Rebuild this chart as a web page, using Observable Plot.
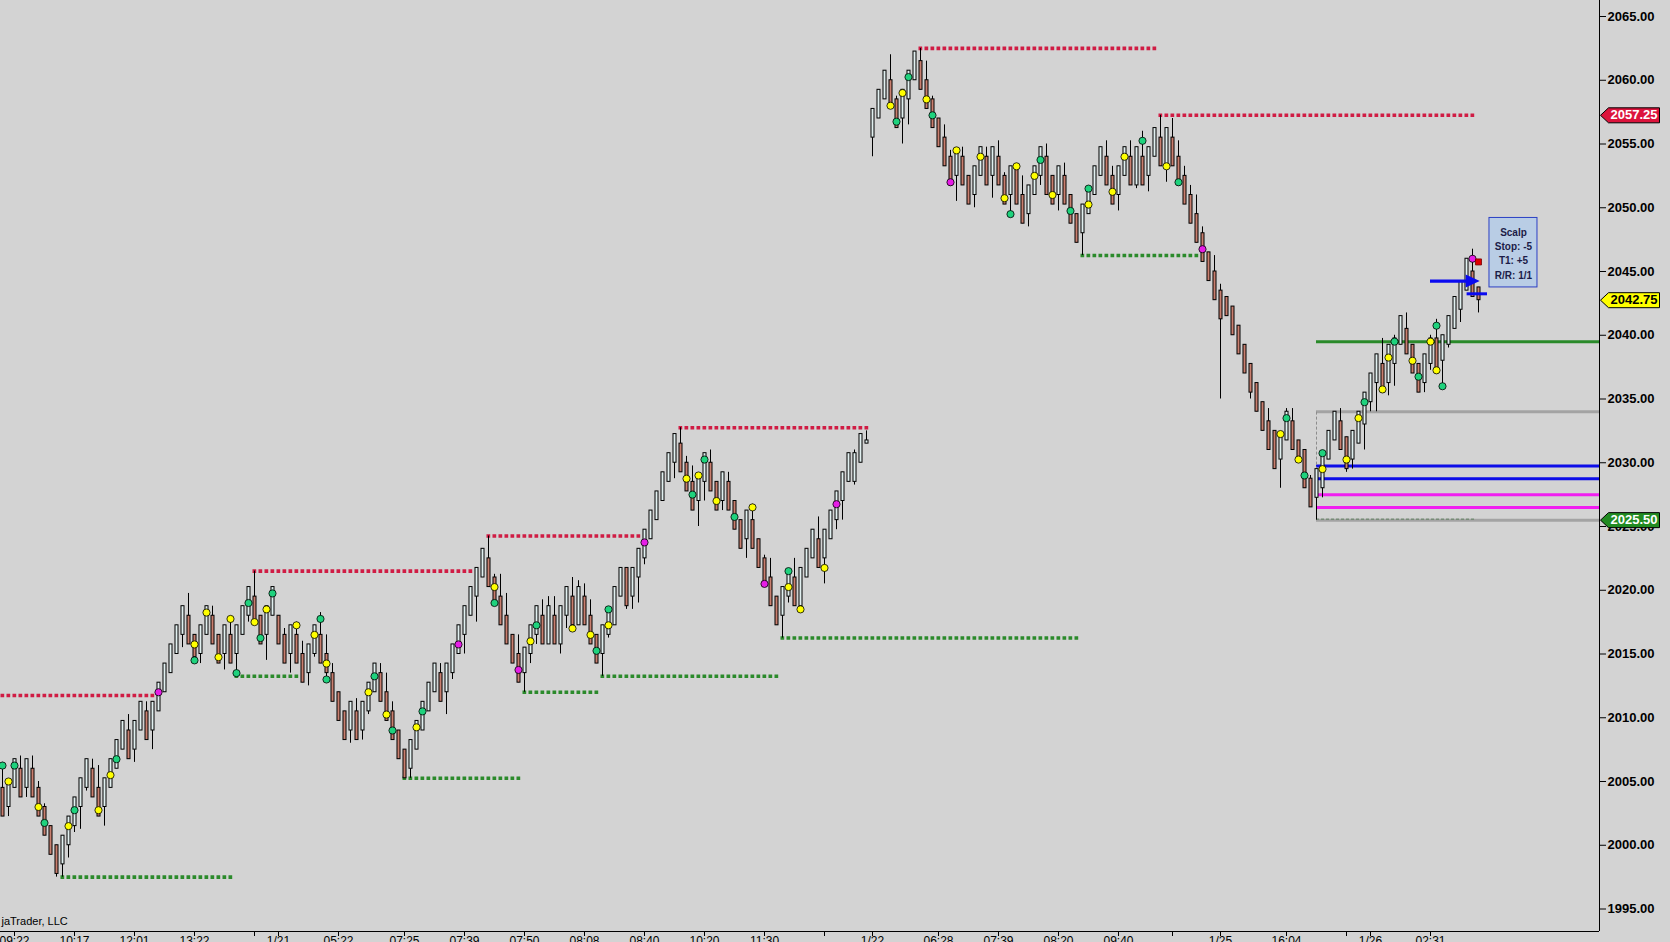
<!DOCTYPE html>
<html>
<head>
<meta charset="utf-8">
<script src="https://cdn.jsdelivr.net/npm/d3@7"></script>
<script src="https://cdn.jsdelivr.net/npm/@observablehq/plot@0.6"></script>
<style>
html, body { margin: 0; padding: 0; background: #d3d3d3; overflow: hidden; }
#chart svg { display: block; }
</style>
</head>
<body>
<div id="chart"></div>
<script>
// ---- OHLC range bars (bar index = position in arrays) ----
const opens = [
2004.5,2003,2004.5,2006,2004.5,2006,2004.5,2003,2001.5,2000,
1998.5,2000,2001.5,2003,2004.5,2006,2004.5,2003,2004.5,2006,
2007.5,2009,2007.5,2009,2010.5,2009,2010.5,2012,2013.5,2015,
2016.5,2018,2016.5,2015,2016.5,2018,2016.5,2015,2016.5,2015,
2016.5,2018,2019.5,2018,2016.5,2018,2018,2016.5,2015,2016.5,
2015,2013.5,2015,2016.5,2015,2013.5,2012,2010.5,2009,2010.5,
2009,2010.5,2012,2013.5,2012,2010.5,2009,2007.5,2006,2007.5,
2009,2010.5,2012,2013.5,2012,2013.5,2015,2016.5,2018,2019.5,
2021,2022.5,2021,2019.5,2018,2016.5,2015,2013.5,2015,2016.5,
2018,2015.75,2018,2015.75,2018,2019.5,2017.25,2019.5,2018,2016.5,
2015,2016.5,2017.25,2019.5,2021.75,2019.5,2021,2022.5,2024,2025.5,
2027,2028.5,2030,2031.5,2030,2028.5,2027,2028.5,2030,2028.5,
2027,2028.5,2027,2025.5,2024,2025.5,2024,2022.5,2021,2019.5,
2018,2019.5,2021,2018.75,2021,2022.5,2024,2022.5,2024,2025.5,
2027,2028.5,2028.5,2030,2031.5,2055.5,2057,2058.5,2060,2058.5,
2057,2058.5,2060,2061.5,2060,2058.5,2057,2055.5,2054,2052.5,
2054,2052.5,2051,2052.5,2054,2052.5,2054,2052.5,2051,2053.25,
2051,2049.5,2051,2052.5,2054,2052.5,2051,2052.5,2051,2049.5,
2048,2049.5,2051,2052.5,2054,2052.5,2051,2052.5,2054,2051.75,
2054,2052.5,2054,2055.5,2053.25,2055.5,2054,2052.5,2051,2049.5,
2048,2046.5,2045,2043.5,2043,2042.25,2040.75,2039.25,2037.75,2036.25,
2034.75,2033.25,2032.5,2030.25,2031.75,2033.25,2031.75,2031,2028.75,2027.25,
2028,2030.25,2031.75,2033.25,2032,2030.25,2031.5,2033,2034.75,2036.25,
2037.75,2036.25,2037.75,2039.25,2040.5,2039.25,2037.75,2036.25,2037.75,2039.75,
2038,2039.25,2040.5,2042,2043.5,2045,2043.75
];
const highs = [
2006.5,2005,2006.75,2007,2006.75,2007,2005,2003.25,2001.5,2000,
2000.75,2002.25,2003.75,2005.25,2006.75,2006.75,2006.25,2005.25,2006.75,2008.25,
2009.75,2010.25,2009.75,2011.25,2011.25,2011.25,2012.75,2014.25,2015.75,2017.25,
2018.75,2019.75,2016.5,2017.25,2018.75,2018.75,2016.5,2017.25,2017.75,2017.25,
2018.75,2020.25,2021.5,2018,2018.75,2020.25,2018,2017,2017.25,2017.5,
2016,2015.75,2017.25,2018.25,2016.5,2014.25,2012,2010.5,2011.25,2011.5,
2011.25,2012.75,2014.25,2014.25,2013.5,2011.25,2009,2007.5,2008.25,2009.75,
2011.25,2012.75,2014.25,2014.25,2014.25,2015.75,2017.25,2018.75,2020.25,2021.75,
2023.25,2024.25,2021.25,2021.25,2019.75,2016.5,2016.5,2015.5,2017.25,2018.75,
2019.25,2019.5,2019.5,2018.75,2020.25,2021,2020.75,2020.5,2019.25,2016.5,
2017.25,2018.5,2020.25,2021.75,2021.75,2021.75,2023.25,2024.75,2026.25,2027.75,
2029.25,2030.75,2032.25,2032.75,2030.5,2029.75,2029,2030.75,2031,2028.5,
2029.25,2029.25,2027,2025.5,2026.25,2026.75,2024,2022.75,2022.5,2019.5,
2020.25,2021.5,2022.5,2021.75,2023.25,2024.75,2025.75,2024.75,2026.25,2027.75,
2029.25,2030.75,2031,2032.25,2032.5,2057.75,2059.25,2060.75,2062,2058.75,
2059.25,2060.75,2062.25,2062.5,2061.5,2058.75,2057,2056.5,2054.5,2054.5,
2054.75,2052.5,2053.25,2054.75,2054.75,2054.75,2055.25,2052.75,2053.25,2053.25,
2052.5,2051.75,2053.25,2054.75,2055,2052.5,2053.25,2053.5,2051,2049.5,
2050.25,2051.5,2053.25,2054.75,2055.25,2053.25,2053.25,2054.75,2055.25,2054.75,
2056,2054.75,2056.25,2057.25,2056.25,2057,2055.25,2053.25,2051.75,2051,
2048.5,2046.5,2046.25,2044,2043,2042.25,2040.75,2039.25,2037.75,2036.25,
2034.75,2034.25,2032.5,2032.25,2034.25,2034.25,2031.75,2031,2029,2029.5,
2030.75,2032.5,2034,2034.25,2032,2032.5,2034,2035.5,2037,2038.5,
2039.75,2039.25,2040,2041.5,2041.75,2039.25,2037.75,2038.5,2040,2041.25,
2040,2041.5,2043,2044.25,2046,2046.75,2043.75
];
const lows = [
2002.25,2002.25,2004.5,2003.75,2003.75,2003.75,2002.25,2000.75,1999.25,1997.5,
1997.5,1999,2001,2001.25,2004.25,2003.75,2002.25,2001.5,2004.5,2006,
2007.5,2006.75,2006.5,2009,2008.25,2007.5,2010.5,2012,2013.5,2015,
2015.5,2015.75,2014.5,2014.25,2016.5,2015.75,2014.25,2013.75,2014.25,2013.25,
2016.5,2017.5,2017.25,2015.75,2014.5,2018,2015.75,2014.25,2013.5,2014.25,
2012.75,2012.5,2014.75,2014.25,2013,2011.25,2009.75,2008.25,2008,2008.25,
2008.25,2010.25,2012,2011.25,2009.75,2008.25,2006.75,2005.25,2005.25,2007.5,
2009,2010.5,2012,2011.25,2010.25,2013,2015,2015,2018,2017.5,
2021,2020.25,2018.75,2017.25,2015.75,2014.25,2012.75,2012,2014.25,2015.75,
2015.75,2015.75,2015.75,2015,2017,2017,2017.25,2017.25,2015.75,2014.25,
2013.25,2016.25,2017.25,2019.5,2018.5,2018.5,2019,2022,2024,2025.5,
2027,2028.5,2028.75,2029.25,2027.75,2026.25,2025,2027,2027.75,2026.25,
2026.25,2026.25,2024.75,2023.25,2022.5,2023.25,2021.75,2020.25,2018.75,2017.25,
2016.25,2019,2018.75,2018.5,2021,2022.5,2021.75,2020.5,2024,2024.75,
2025.5,2028.5,2028.25,2030,2031.5,2054,2057,2058.5,2057.75,2056.25,
2055,2056.5,2060,2059.25,2057.75,2056.25,2054.75,2053.25,2051.75,2050.5,
2051.75,2050.25,2050,2052.5,2051.75,2050.75,2051.75,2050.25,2049.5,2050.25,
2048.75,2048.5,2051,2051.75,2051,2050.25,2049.75,2050.25,2048.75,2047.25,
2046.25,2049.5,2051,2052.5,2051.75,2050.25,2049.75,2052.5,2051.75,2051.5,
2051.75,2051.25,2054,2053.25,2052,2053.25,2051.75,2050.25,2048.75,2047.25,
2045.75,2044.25,2042.75,2035,2041.5,2040,2038.5,2037,2035,2034,
2032.5,2031,2029.5,2028,2031.75,2031,2030.25,2028,2026.5,2025.5,
2027.25,2030.25,2031.75,2031,2029.25,2029.5,2031.5,2031,2034,2034,
2035.5,2035.25,2036,2039.25,2038.5,2037,2035.5,2035.5,2037.25,2037,
2036,2039,2040.5,2041,2043.5,2043,2041.75
];
const closes = [
2002.25,2005,2006.75,2003.75,2006.75,2003.75,2002.25,2000.75,1999.25,1997.75,
2000.75,2002.25,2003.75,2005.25,2006.75,2003.75,2002.25,2005.25,2006.75,2008.25,
2009.75,2006.75,2009.75,2011.25,2008.25,2011.25,2012.75,2014.25,2015.75,2017.25,
2018.75,2015.75,2014.75,2017.25,2018.75,2015.75,2014.25,2017.25,2014.25,2017.25,
2018.75,2020.25,2017.5,2015.75,2018.75,2020.25,2015.75,2014.25,2017.25,2014.25,
2012.75,2015.75,2017.25,2014.25,2013.5,2011.25,2009.75,2008.25,2011.25,2008.25,
2011.25,2012.75,2014.25,2011.25,2009.75,2008.25,2006.75,2005.25,2008.25,2009.75,
2011.25,2012.75,2014.25,2011.25,2014.25,2015.75,2017.25,2018.75,2020.25,2021.75,
2023.25,2020.25,2019,2017.25,2015.75,2014.25,2012.75,2015.5,2017.25,2018.75,
2015.75,2018.75,2015.75,2018.75,2020.25,2017.25,2020.25,2017.25,2015.75,2014.25,
2017.25,2018.5,2020.25,2021.75,2018.75,2021.75,2023.25,2024.75,2026.25,2027.75,
2029.25,2030.75,2032.25,2029.25,2027.75,2026.25,2029,2030.75,2027.75,2026.25,
2029.25,2026.25,2024.75,2023.25,2026.25,2023.25,2021.75,2020.25,2018.75,2017.25,
2020.25,2021.5,2018.75,2021.75,2023.25,2024.75,2021.75,2024.75,2026.25,2027.75,
2029.25,2030.75,2030.75,2032.25,2031.75,2057.75,2059.25,2060.75,2057.75,2056.25,
2059.25,2060.75,2062.25,2059.25,2057.75,2056.25,2054.75,2053.25,2051.75,2054.5,
2051.75,2050.25,2053.25,2054.75,2051.75,2054.75,2051.75,2050.25,2053.25,2050.25,
2048.75,2051.75,2053.25,2054.75,2051,2050.25,2053.25,2050.25,2048.75,2047.25,
2050.25,2051.5,2053.25,2054.75,2051.75,2050.25,2053.25,2054.75,2051.75,2054.75,
2051.75,2054.75,2056.25,2053.25,2056.25,2053.25,2051.75,2050.25,2048.75,2047.25,
2045.75,2044.25,2042.75,2041.25,2041.5,2040,2038.5,2037,2035.5,2034,
2032.5,2031,2029.5,2032.25,2034,2031,2030.25,2028,2026.5,2029.5,
2030.75,2032.5,2034,2031,2029.5,2032.5,2034,2035.5,2037,2038.5,
2035.5,2039.25,2039.75,2041.5,2038.5,2037,2035.5,2038.5,2039.75,2037,
2040,2041.5,2043,2044.25,2046,2043,2042.75
];

// ---- signal dots ----
const greenBars = [0,2,7,12,19,32,39,41,43,45,53,54,62,65,70,82,89,99,101,115,117,122,131,149,151,155,168,173,178,181,190,196,214,217,220,227,232,236,239,240];
const greenPrices = [2006.25,2006.25,2001.75,2002.75,2006.75,2014.5,2013.5,2019,2016.25,2019.75,2017.75,2013,2013.25,2009,2010.5,2019,2017.25,2015.25,2018.5,2027.5,2030.25,2025.75,2021.5,2056.75,2060.25,2057.25,2049.5,2053.75,2049.75,2051.5,2055.25,2052,2033.5,2029,2030.75,2034.75,2039.5,2036.75,2040.75,2036];
const yellowBars = [1,6,11,16,18,32,34,36,38,42,44,49,52,54,61,64,69,82,88,95,98,101,114,116,119,125,131,133,137,148,150,154,159,163,167,169,172,175,181,185,187,194,213,216,220,224,226,230,231,235,238,239];
const yellowPrices = [2005,2003,2001.5,2002.75,2005.5,2015.75,2018.25,2014.75,2017.75,2017.5,2018.5,2017.25,2016.5,2014.25,2012,2010.25,2009.25,2020.25,2016,2017,2016.5,2017.25,2028.75,2029,2027,2026.5,2020.25,2018.5,2021.75,2058,2059,2058.5,2054.5,2054,2050.75,2053.25,2052.5,2051,2050.25,2051.25,2054,2053.25,2032.25,2030.25,2029.5,2030.25,2033.5,2035.75,2038.25,2038,2039.5,2037.25];
const magentaBars = [26,76,86,107,127,139,158,200,245];
const magentaPrices = [2012,2015.75,2013.75,2023.75,2020.5,2026.75,2052,2046.75,2046];

// ---- swing levels (dotted) ----
const resistFrom = [-2,42,81,113,153,193];
const resistTo = [25,78,106,144,192,245];
const resistPrices = [2011.75,2021.5,2024.25,2032.75,2062.5,2057.25];
const supportFrom = [10,39,67,87,100,130,180];
const supportTo = [38,49,86,99,129,179,199];
const supportPrices = [1997.5,2013.25,2005.25,2012,2013.25,2016.25,2046.25];

// ---- right-side zone lines ----
const zoneStartBar = 219;
const zonePrices = [2039.5,2034,2029.75,2028.75,2027.5,2026.5,2025.5];
const zoneColors = ["#2a8a2a","#a3a3a3","#0d0de8","#0d0de8","#f01ef0","#f01ef0","#a3a3a3"];

// ---- trade marker ----
const entryPrice = 2044.25, entryFromBar = 238, entryToBar = 246.2;
const targetPrice = 2043.25, targetFromBar = 244.1, targetToBar = 247.5;
const stopMarkBar = 246, stopMarkPrice = 2045.75;
const scalpLines = ["Scalp","Stop: -5","T1: +5","R/R: 1/1"];

// ---- price tags ----
const tagPrices = [2057.25,2042.75,2025.5];
const tagFills = ["#dc143c","#ffff00","#228b22"];
const tagText = ["white","black","white"];

// ---- axes ----
const yTicks = d3.range(1995, 2066, 5);
const xTickBars = [2,12,22,32,42,46,56,67,77,87,97,107,117,127,137,145,156,166,176,186,195,203,214,224,228,238];
const xTickLabels = ["09:22","10:17","12:01","13:22","","1/21","05:22","07:25","07:39","07:50","08:08","08:40","10:20","11:30","","1/22","06:28","07:39","08:20","09:40","","1/25","16:04","","1/26","02:31"];

// ---- build tables ----
const bars = opens.map((o, i) => ({i, o, h: highs[i], l: lows[i], c: closes[i]}));
const dots = [
  ...greenBars.map((b, k) => ({b, p: greenPrices[k], f: "#1fd27d"})),
  ...yellowBars.map((b, k) => ({b, p: yellowPrices[k], f: "#ffff00"})),
  ...magentaBars.map((b, k) => ({b, p: magentaPrices[k], f: "#e61ee6"}))
];
const resist = resistPrices.map((p, k) => ({p, a: resistFrom[k] - 0.25, z: resistTo[k] + 0.5}));
const support = supportPrices.map((p, k) => ({p, a: supportFrom[k] - 0.25, z: supportTo[k] + 0.5}));
const zones = zonePrices.map((p, k) => ({p, col: zoneColors[k]}));
const tags = tagPrices.map((p, k) => ({p, f: tagFills[k], t: tagText[k]}));
const xLabel = new Map(xTickBars.map((b, k) => [b, xTickLabels[k]]));

const X0 = -1/3, X1 = X0 + 266.5;
const YMAX = 2065 + 16/12.75, YMIN = YMAX - 931/12.75;

const tagShape = {draw(ctx) {
  ctx.moveTo(1, 0); ctx.lineTo(9, -7.5); ctx.lineTo(60, -7.5);
  ctx.lineTo(60, 7.5); ctx.lineTo(9, 7.5); ctx.closePath();
}};
const arrowHead = {draw(ctx) {
  ctx.moveTo(0, 0); ctx.lineTo(-14, -6.5); ctx.lineTo(-14, 6.5); ctx.closePath();
}};

const upFill = "#e2f0f0", downFill = "#c97f6f";
const boxX1 = 247.83, boxX2 = 255.83, boxY1 = 2043.75, boxY2 = 2049.2;

const chart = Plot.plot({
  width: 1670, height: 942,
  marginLeft: 0, marginRight: 71, marginTop: 0, marginBottom: 11,
  style: {background: "#d3d3d3", fontFamily: "'Liberation Sans', Arial, sans-serif", color: "black", overflow: "visible"},
  x: {domain: [X0, X1]},
  y: {domain: [YMIN, YMAX]},
  color: {type: "identity"},
  marks: [
    // zone lines
    Plot.ruleY(zones, {y: "p", x1: zoneStartBar, x2: X1, stroke: "col", strokeWidth: 3}),
    Plot.ruleX([zoneStartBar], {y1: zonePrices[6], y2: zonePrices[1], stroke: "#8c8c8c", strokeDasharray: "3,2"}),
    Plot.ruleY([zonePrices[6]], {x1: zoneStartBar, x2: 245.5, dy: -1, stroke: "#5f7f5f", strokeDasharray: "3,2"}),
    // swing levels
    Plot.ruleY(resist, {y: "p", x1: "a", x2: "z", stroke: "#d01c44", strokeWidth: 3.6, strokeDasharray: "3.7,2.3", clip: true}),
    Plot.ruleY(support, {y: "p", x1: "a", x2: "z", stroke: "#2b8a2b", strokeWidth: 3.6, strokeDasharray: "3.7,2.3", clip: true}),
    // candles
    Plot.ruleX(bars, {x: "i", y1: "l", y2: "h", stroke: "black", strokeWidth: 1}),
    Plot.rect(bars, {
      x1: d => d.i - 1/6, x2: d => d.i + 2/6,
      y1: d => Math.min(d.o, d.c), y2: d => Math.max(d.o, d.c) + (d.o === d.c ? 0.1 : 0),
      fill: d => d.c >= d.o ? upFill : downFill, stroke: "black", strokeWidth: 1
    }),
    // signal dots
    Plot.dot(dots, {x: "b", y: "p", r: 3.6, fill: "f", stroke: "black", strokeWidth: 0.8}),
    // trade marker
    Plot.ruleY([entryPrice], {x1: entryFromBar, x2: entryToBar - 2, stroke: "#0a0af0", strokeWidth: 3.3}),
    Plot.dot([entryPrice], {x: entryToBar, y: d => d, symbol: arrowHead, r: 5, fill: "#0a0af0", stroke: null}),
    Plot.ruleY([targetPrice], {x1: targetFromBar, x2: targetToBar, stroke: "#0a0af0", strokeWidth: 3}),
    Plot.dot([stopMarkPrice], {x: stopMarkBar, y: d => d, symbol: "square", r: 3.4, fill: "#e00000", stroke: "#7a0000", strokeWidth: 0.8}),
    Plot.rect([0], {x1: boxX1, x2: boxX2, y1: boxY1, y2: boxY2, fill: "#b9cde5", stroke: "#2b3fc4", strokeWidth: 1}),
    Plot.text([scalpLines.join("\n")], {x: (boxX1 + boxX2) / 2, y: (boxY1 + boxY2) / 2, text: d => d, fontSize: 10, fontWeight: "bold", lineHeight: 1.42, fill: "#1c1c48"}),
    // frame lines
    Plot.ruleX([X1], {stroke: "black"}),
    Plot.ruleY([YMIN], {stroke: "black"}),
    // axes
    Plot.axisY({anchor: "right", ticks: yTicks, tickFormat: d => d.toFixed(2), tickSize: 6, tickPadding: 2, fontSize: 13, fontWeight: "bold", label: null}),
    Plot.axisX({anchor: "bottom", ticks: xTickBars, tickFormat: d => xLabel.get(d), tickSize: 5, tickPadding: 0, fontSize: 12, label: null}),
    // price tags
    Plot.dot(tags, {x: X1, y: "p", symbol: tagShape, r: 5, fill: "f", stroke: "black", strokeWidth: 1}),
    Plot.text(tags, {x: X1, y: "p", text: d => d.p.toFixed(2), dx: 34.5, fill: "t", fontSize: 13, fontWeight: "bold"}),
    // copyright
    Plot.text(["jaTrader, LLC"], {frameAnchor: "bottom-left", dx: 1, dy: -7, textAnchor: "start", fontSize: 11, fill: "black"})
  ]
});
document.getElementById("chart").appendChild(chart);
</script>
</body>
</html>
